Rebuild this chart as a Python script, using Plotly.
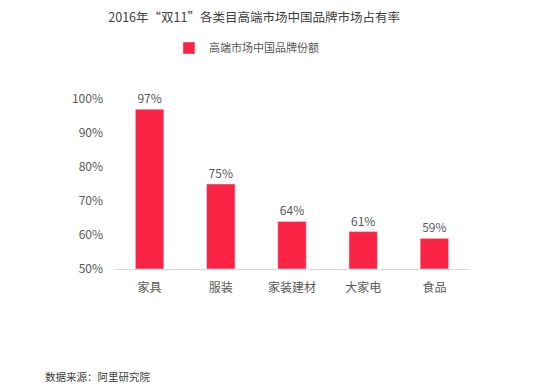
import plotly.graph_objects as go

categories = ["家具", "服装", "家装建材", "大家电", "食品"]
values = [97, 75, 64, 61, 59]
labels = ["97%", "75%", "64%", "61%", "59%"]
tick_vals = [50, 60, 70, 80, 90, 100]
tick_text = ["50%", "60%", "70%", "80%", "90%", "100%"]
series_name = "高端市场中国品牌份额"

FONT = "Noto Sans CJK SC, Noto Sans, sans-serif"
RED = "#FB2445"
GREY = "#595959"

fig = go.Figure()
fig.add_trace(go.Bar(
    x=categories, y=[v - 50 for v in values], base=50,
    name=series_name, marker_color=RED,
    text=labels, textposition="outside", cliponaxis=False,
    textfont=dict(size=12, color=GREY, family=FONT),
))

fig.update_layout(
    width=550, height=387,
    paper_bgcolor="white", plot_bgcolor="white",
    margin=dict(l=114, r=80, t=99, b=118, autoexpand=False),
    bargap=0.6,
    font=dict(family=FONT, color=GREY, size=12),
    title=dict(text="2016年“双11”各类目高端市场中国品牌市场占有率", x=0.462, xanchor="center",
               y=0.955, yanchor="middle", font=dict(size=12.5, color="#404040", family=FONT)),
    showlegend=True,
    legend=dict(orientation="h", x=0.372, xanchor="center", yref="container", y=0.876,
                yanchor="middle",
                font=dict(size=11, color=GREY, family=FONT), itemwidth=30),
    xaxis=dict(showline=True, linecolor="#D9D9D9", linewidth=1, ticks="",
               ticklabelstandoff=8,
               tickfont=dict(size=12, color=GREY), showgrid=False),
    yaxis=dict(range=[50, 100], tickvals=tick_vals, ticktext=tick_text, showgrid=False,
               zeroline=False, showline=False, ticks="", ticklabelstandoff=10,
               tickfont=dict(size=12, color=GREY)),
)

fig.add_annotation(text="数据来源：阿里研究院", xref="paper", yref="paper",
                   x=-0.2, y=-0.63, xanchor="left", yanchor="middle", showarrow=False,
                   font=dict(size=10.5, color="#404040", family=FONT))

fig.write_html("out.html", config={"displayModeBar": False},
               post_script="document.body.style.margin='0';")
